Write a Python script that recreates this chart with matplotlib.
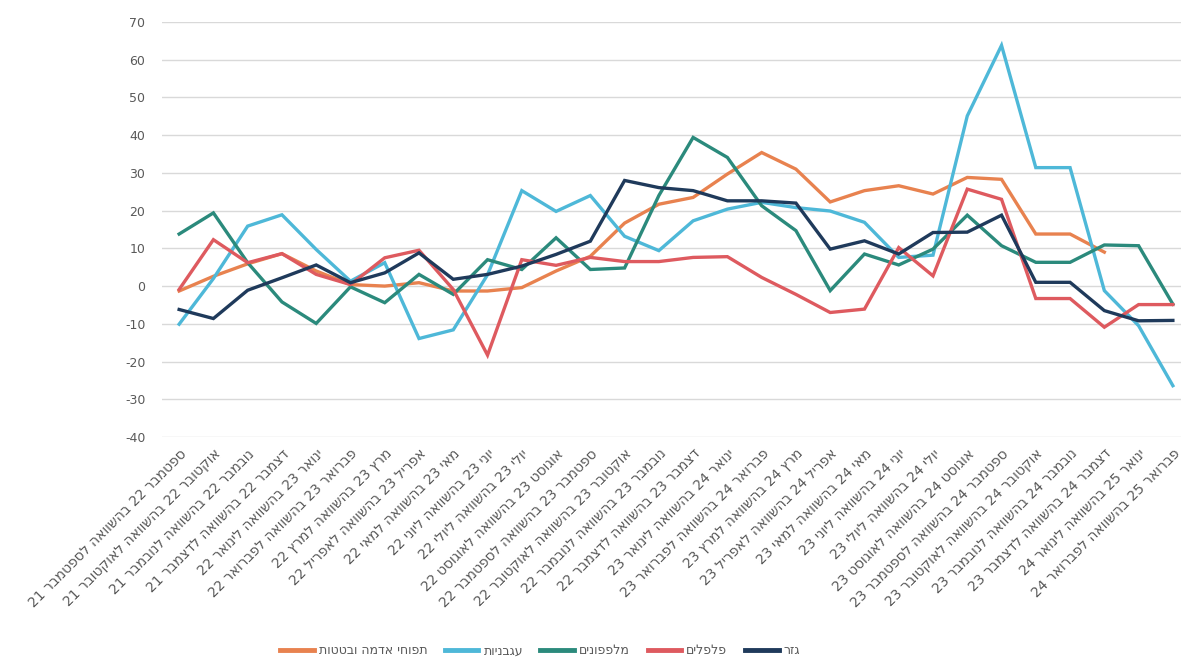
import matplotlib

matplotlib.use("Agg")
import matplotlib.pyplot as plt

# x categories (logical Hebrew order)
labels = [
    "ספטמבר 22 בהשוואה לספטמבר 21",
    "אוקטובר 22 בהשוואה לאוקטובר 21",
    "נובמבר 22 בהשוואה לנובמבר 21",
    "דצמבר 22 בהשוואה לדצמבר 21",
    "ינואר 23 בהשוואה לינואר 22",
    "פברואר 23 בהשוואה לפברואר 22",
    "מרץ 23 בהשוואה למרץ 22",
    "אפריל 23 בהשוואה לאפריל 22",
    "מאי 23 בהשוואה למאי 22",
    "יוני 23 בהשוואה ליוני 22",
    "יולי 23 בהשוואה ליולי 22",
    "אוגוסט 23 בהשוואה לאוגוסט 22",
    "ספטמבר 23 בהשוואה לספטמבר 22",
    "אוקטובר 23 בהשוואה לאוקטובר 22",
    "נובמבר 23 בהשוואה לנובמבר 22",
    "דצמבר 23 בהשוואה לדצמבר 22",
    "ינואר 24 בהשוואה לינואר 23",
    "פברואר 24 בהשוואה לפברואר 23",
    "מרץ 24 בהשוואה למרץ 23",
    "אפריל 24 בהשוואה לאפריל 23",
    "מאי 24 בהשוואה למאי 23",
    "יוני 24 בהשוואה ליוני 23",
    "יולי 24 בהשוואה ליולי 23",
    "אוגוסט 24 בהשוואה לאוגוסט 23",
    "ספטמבר 24 בהשוואה לספטמבר 23",
    "אוקטובר 24 בהשוואה לאוקטובר 23",
    "נובמבר 24 בהשוואה לנובמבר 23",
    "דצמבר 24 בהשוואה לדצמבר 23",
    "ינואר 25 בהשוואה לינואר 24",
    "פברואר 25 בהשוואה לפברואר 24",
]

potatoes = [-1.3, 2.6, 5.9, 8.6, 4.0, 0.4, 0.0, 0.9, -1.3, -1.3, -0.4, 4.0, 7.9, 16.7,
            21.7, 23.5, 29.7, 35.4, 31.0, 22.3, 25.3, 26.6, 24.4, 28.8, 28.3, 13.8, 13.8, 9.0]
tomatoes = [-10.1, 2.0, 15.9, 18.9, 9.7, 1.3, 6.2, -13.9, -11.6, 3.0, 25.3, 19.8, 24.0, 13.2,
            9.4, 17.3, 20.4, 22.2, 20.8, 19.9, 16.9, 7.6, 8.2, 45.1, 63.8, 31.4, 31.4, -1.2,
            -10.5, -26.4]
cucumbers = [13.8, 19.4, 6.2, -4.2, -9.9, -0.2, -4.4, 3.1, -2.2, 7.0, 4.4, 12.8, 4.4, 4.8,
             24.0, 39.4, 34.1, 21.3, 14.7, -1.2, 8.5, 5.6, 9.8, 18.8, 10.7, 6.3, 6.3, 10.9,
             10.7, -4.8]
peppers = [-0.9, 12.3, 6.2, 8.6, 3.1, 0.4, 7.5, 9.5, -0.9, -18.3, 7.0, 5.5, 7.6, 6.5, 6.5,
           7.6, 7.8, 2.3, -2.2, -7.0, -6.1, 10.2, 2.7, 25.7, 23.0, -3.3, -3.3, -10.9, -4.9,
           -4.9]
carrots = [-6.2, -8.6, -1.1, 2.2, 5.6, 0.9, 3.5, 8.8, 1.8, 3.1, 5.3, 8.4, 11.9, 28.0, 26.1,
           25.3, 22.6, 22.6, 22.0, 9.8, 12.0, 8.5, 14.2, 14.3, 18.8, 1.0, 1.0, -6.5, -9.2,
           -9.1]

series = [
    ("תפוחי אדמה ובטטות", potatoes, "#E8824F"),
    ("עגבניות", tomatoes, "#4EB8D8"),
    ("מלפפונים", cucumbers, "#2B8A7C"),
    ("פלפלים", peppers, "#DE5A5F"),
    ("גזר", carrots, "#1F3A5B"),
]


def visual(s):
    # matplotlib lays text out left to right, so put Hebrew in visual order
    out = []
    for tok in reversed(s.split(" ")):
        if any("\u0590" <= c <= "\u05ff" for c in tok):
            tok = tok[::-1]
        out.append(tok)
    return " ".join(out)


plt.rcParams["font.family"] = ["DejaVu Sans"]
plt.rcParams["axes.unicode_minus"] = False

fig = plt.figure(figsize=(11.81, 6.65), dpi=100)
ax = fig.add_axes([162 / 1181, 228 / 665, 1028 / 1181, 415 / 665])

for name, vals, color in series:
    ax.plot(range(len(vals)), vals, color=color, linewidth=2.4, label=visual(name),
            solid_joinstyle="miter", zorder=3)

ax.set_xlim(-0.5, 29.5)
ax.set_ylim(-40, 70)
ax.set_yticks(range(-40, 71, 10))
ax.grid(True, axis="y", color="#d9d9d9", linewidth=1)
ax.set_axisbelow(True)
for sp in ax.spines.values():
    sp.set_visible(False)

ax.set_xticks(range(len(labels)))
ax.set_xticklabels([visual(l) for l in labels], rotation=45, ha="right",
                   rotation_mode="anchor", fontsize=10, color="#595959")
ax.tick_params(axis="both", length=0)
ax.tick_params(axis="x", pad=7)
ax.tick_params(axis="y", labelsize=9, labelcolor="#595959", pad=12)

ax.legend(loc="center", bbox_to_anchor=(540 / 1181, 14 / 665), bbox_transform=fig.transFigure,
          ncol=5, frameon=False, fontsize=9, handlelength=2.7, columnspacing=1.4,
          handletextpad=0.4, labelcolor="#595959")
for line in ax.get_legend().get_lines():
    line.set_linewidth(3.5)

fig.savefig("out.png", dpi=100)
